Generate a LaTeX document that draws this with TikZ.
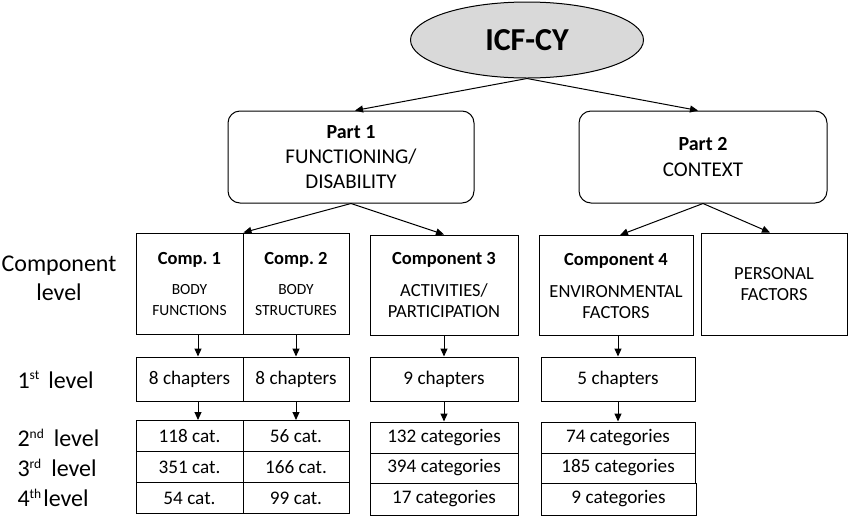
\documentclass[tikz,border=0pt]{standalone}
\usepackage{fontspec}
\setmainfont{Carlito}
\usetikzlibrary{shapes.geometric,arrows.meta}
\definecolor{ellgray}{HTML}{D9D9D9}
\newcommand{\smalltxt}{\fontsize{15.5}{20}\selectfont}
\newcommand{\supx}[1]{\raisebox{0.75ex}{\fontsize{13.5}{13.5}\selectfont #1}}
\frenchspacing
\begin{document}
\begin{tikzpicture}[x=1pt,y=-1pt,
  line width=1pt,
  bx/.style 2 args={draw, minimum width=#1, minimum height=#2, inner sep=0pt, align=center,
    font=\fontsize{19.2}{21}\selectfont},
  arr/.style={-{Triangle[length=8pt,width=7pt]}},
  lbl/.style={anchor=west, inner sep=0pt, font=\fontsize{24}{29}\selectfont}
]
\useasboundingbox (0,0) rectangle (850,517);

% title
\node[ellipse, draw, fill=ellgray, minimum width=233pt, minimum height=76pt, inner sep=0pt,
  font=\fontsize{32}{34}\selectfont\bfseries] (icf) at (527,40) {ICF-CY};

% parts
\node[bx={246pt}{92pt}, rounded corners=12pt, font=\fontsize{21}{25}\selectfont] (p1) at (351,157)
  {{\fontsize{20}{25}\selectfont\bfseries Part 1}\\FUNCTIONING/\\DISABILITY};
\node[bx={248pt}{92pt}, rounded corners=12pt, font=\fontsize{21}{26}\selectfont] (p2) at (703,157)
  {{\fontsize{20}{26}\selectfont\bfseries Part 2}\\CONTEXT};

% components
\node[bx={107pt}{101pt}, font=\fontsize{18.5}{21}\selectfont] (c1) at (189.5,283.5)
  {\textbf{Comp. 1}\\[9pt]\smalltxt BODY\\\smalltxt FUNCTIONS};
\node[bx={106pt}{101pt}, font=\fontsize{18.5}{21}\selectfont] (c2) at (296,283.5)
  {\textbf{Comp. 2}\\[9pt]\smalltxt BODY\\\smalltxt STRUCTURES};
\node[bx={148pt}{100pt}, font=\fontsize{18.5}{21}\selectfont] (c3) at (444,285)
  {\textbf{Component 3}\\[11pt]ACTIVITIES/\\PARTICIPATION};
\node[bx={154pt}{100pt}, font=\fontsize{18.5}{21}\selectfont] (c4) at (616,285.5)
  {\textbf{Component 4}\\[11pt]ENVIRONMENTAL\\FACTORS};
\node[bx={146pt}{102pt}, font=\fontsize{18.5}{21}\selectfont] (c5) at (774,284)
  {PERSONAL\\FACTORS};

% level 1
\node[bx={107pt}{44pt}] (l1a) at (189.5,379) {8 chapters};
\node[bx={106pt}{44pt}] (l1b) at (296,379) {8 chapters};
\node[bx={148pt}{44pt}] (l1c) at (444,379) {9 chapters};
\node[bx={154pt}{44pt}] (l1d) at (618,379) {5 chapters};

% levels 2-4
\node[bx={107pt}{31pt}] (l2a) at (189.5,436) {118 cat.};
\node[bx={106pt}{31pt}] (l2b) at (296,436) {56 cat.};
\node[bx={107pt}{31pt}] (l3a) at (189.5,467) {351 cat.};
\node[bx={106pt}{31pt}] (l3b) at (296,467) {166 cat.};
\node[bx={107pt}{31pt}] (l4a) at (189.5,498) {54 cat.};
\node[bx={106pt}{31pt}] (l4b) at (296,498) {99 cat.};

\node[bx={148pt}{31pt}] (l2c) at (444,437.5) {132 categories};
\node[bx={148pt}{30pt}] (l3c) at (444,468) {394 categories};
\node[bx={148pt}{32pt}] (l4c) at (444,499) {17 categories};

\node[bx={154pt}{31pt}] (l2d) at (618,437.5) {74 categories};
\node[bx={154pt}{30pt}] (l3d) at (618,468) {185 categories};
\node[bx={155pt}{32pt}] (l4d) at (618.5,499) {9 categories};

% left labels
\node[align=center, inner sep=0pt, font=\fontsize{24}{29}\selectfont] (lc) at (59,278) {Component\\level};
\node[lbl] (lv1) at (17,380) {1\supx{st}\hspace{9pt}level};
\node[lbl] (lv2) at (17,438) {2\supx{nd}\hspace{10pt}level};
\node[lbl] (lv3) at (17,468) {3\supx{rd}\hspace{10pt}level};
\node[lbl] (lv4) at (17,498) {4\supx{th}\hspace{2pt}level};

% connectors
\draw[arr] (icf.south) -- ([xshift=4pt]p1.north);
\draw[arr] (icf.south) -- ([xshift=-5pt]p2.north);
\draw[arr] (p1.south) -- (c1.north east);
\draw[arr] (p1.south) -- (c3.north);
\draw[arr] (p2.south) -- ([xshift=4pt]c4.north);
\draw[arr] (p2.south) -- ([xshift=-4pt]c5.north);
\draw[arr] ([xshift=8.5pt]c1.south) -- ([xshift=8.5pt]l1a.north);
\draw[arr] (c2.south) -- (l1b.north);
\draw[arr] (c3.south) -- (l1c.north);
\draw[arr] ([xshift=2pt]c4.south) -- ([xshift=0pt]l1d.north);
\draw[arr] ([xshift=8.5pt]l1a.south) -- ([xshift=8.5pt]l2a.north);
\draw[arr] (l1b.south) -- (l2b.north);
\draw[arr] (l1c.south) -- (l2c.north);
\draw[arr] (l1d.south) -- (l2d.north);
\end{tikzpicture}
\end{document}
